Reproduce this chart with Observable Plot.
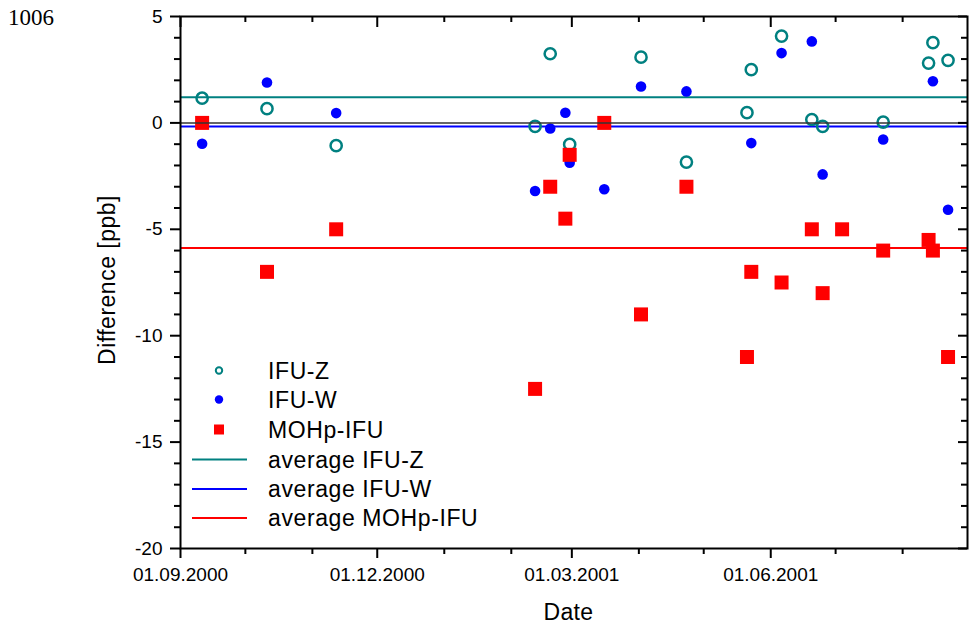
<!DOCTYPE html>
<html><head><meta charset="utf-8">
<script src="https://cdn.jsdelivr.net/npm/d3@7"></script>
<script src="https://cdn.jsdelivr.net/npm/@observablehq/plot@0.6"></script>
<style>
body{margin:0;background:#fff;}
#chart{position:relative;width:969px;height:627px;}
</style>
</head><body><div id="chart"></div>
<script>
// ---- data ----
const datesZ  = ["2000-09-11","2000-10-11","2000-11-12","2001-02-12","2001-02-19","2001-02-28","2001-04-02","2001-04-23","2001-05-21","2001-05-23","2001-06-06","2001-06-20","2001-06-25","2001-07-23","2001-08-13","2001-08-15","2001-08-22"];
const valuesZ = [1.16,0.67,-1.07,-0.16,3.25,-1.01,3.09,-1.84,0.48,2.5,4.08,0.16,-0.16,0.04,2.81,3.77,2.94];
const datesW  = ["2000-09-11","2000-10-11","2000-11-12","2001-02-12","2001-02-19","2001-02-26","2001-02-28","2001-03-16","2001-04-02","2001-04-23","2001-05-23","2001-06-06","2001-06-20","2001-06-25","2001-07-23","2001-08-15","2001-08-22"];
const valuesW = [-0.98,1.9,0.46,-3.2,-0.26,0.48,-1.87,-3.12,1.71,1.48,-0.95,3.28,3.83,-2.42,-0.78,1.96,-4.08];
const datesM  = ["2000-09-11","2000-10-11","2000-11-12","2001-02-12","2001-02-19","2001-02-26","2001-02-28","2001-03-16","2001-04-02","2001-04-23","2001-05-21","2001-05-23","2001-06-06","2001-06-20","2001-06-25","2001-07-04","2001-07-23","2001-08-13","2001-08-15","2001-08-22"];
const valuesM = [0,-7,-5,-12.5,-3,-4.5,-1.5,0,-9,-3,-11,-7,-7.5,-5,-8,-5,-6,-5.5,-6,-11];
const averages = [1.21, -0.17, -5.88]; // average IFU-Z, IFU-W, MOHp-IFU
const seriesNames = ["IFU-Z","IFU-W","MOHp-IFU"];
const averageNames = ["average IFU-Z","average IFU-W","average MOHp-IFU"];
const xTickDates = ["2000-09-01","2000-12-01","2001-03-01","2001-06-01"];
const yTicks = [-20,-15,-10,-5,0,5];
const xDomainDates = ["2000-09-01","2001-08-31"];
const yDomain = [-20, 5];
const panelLabel = "1006";
const xLabel = "Date";
const yLabel = "Difference [ppb]";

// ---- styles ----
const colZ = "#008080", colW = "#0000ff", colM = "#ff0000";
const FONT = "'Liberation Sans', Arial, sans-serif";

const parse = d3.utcParse("%Y-%m-%d");
const toRows = (ds, vs) => ds.map((d, i) => ({date: parse(d), value: vs[i]}));
const dataZ = toRows(datesZ, valuesZ);
const dataW = toRows(datesW, valuesW);
const dataM = toRows(datesM, valuesM);
const xDomain = xDomainDates.map(parse);
const majorX = xTickDates.map(parse);
const minorX = d3.utcMonth.range(xDomain[0], d3.utcDay.offset(xDomain[1], 1)).filter(d => !majorX.some(m => +m === +d));
const minorY = d3.range(yDomain[0], yDomain[1] + 1).filter(v => v % 5 !== 0);

const W = 969, H = 627, mT = 16, mR = 2, mB = 79, mL = 180;
const fw = W - mL - mR, fh = H - mT - mB;

const plot = Plot.plot({
  width: W, height: H,
  marginTop: mT, marginRight: mR, marginBottom: mB, marginLeft: mL,
  style: {fontFamily: FONT, fontSize: "19px", color: "#000", background: "#fff", overflow: "visible"},
  x: {type: "utc", domain: xDomain},
  y: {domain: yDomain},
  marks: [
    Plot.ruleY([averages[0]], {y: d => d, stroke: colZ, strokeWidth: 2}),
    Plot.ruleY([averages[1]], {y: d => d, stroke: colW, strokeWidth: 2}),
    Plot.ruleY([averages[2]], {y: d => d, stroke: colM, strokeWidth: 2}),
    Plot.dot(dataZ, {x: "date", y: "value", r: 5.6, stroke: colZ, strokeWidth: 2.5, fill: "none"}),
    Plot.dot(dataW, {x: "date", y: "value", r: 5.3, fill: colW, stroke: "none"}),
    Plot.dot(dataM, {x: "date", y: "value", symbol: "square", r: 7.9, fill: colM, stroke: "none"}),
    Plot.ruleY([0], {stroke: "#333", strokeWidth: 1.5}),
    // left axis
    Plot.axisY(yTicks, {anchor: "left", tickSize: 10, tickPadding: 8, tickFormat: d => String(d), label: null, strokeWidth: 2, fontSize: 19}),
    Plot.axisY(minorY, {anchor: "left", tickSize: 6, tickFormat: () => "", label: null, strokeWidth: 2}),
    // right axis (inward ticks)
    Plot.ruleY(yTicks, {y: d => d, insetLeft: fw - 9, stroke: "#000", strokeWidth: 2}),
    Plot.ruleY(minorY, {y: d => d, insetLeft: fw - 6, stroke: "#000", strokeWidth: 2}),
    // bottom axis
    Plot.axisX(majorX, {anchor: "bottom", tickSize: 10, tickPadding: 9, tickFormat: d3.utcFormat("%d.%m.%Y"), label: null, strokeWidth: 2, fontSize: 19}),
    Plot.axisX(minorX, {anchor: "bottom", tickSize: 6, tickFormat: () => "", label: null, strokeWidth: 2}),
    // top axis (inward ticks)
    Plot.ruleX(majorX, {x: d => d, insetBottom: fh - 11, stroke: "#000", strokeWidth: 2}),
    Plot.ruleX(minorX, {x: d => d, insetBottom: fh - 6, stroke: "#000", strokeWidth: 2}),
    Plot.frame({stroke: "#000", strokeWidth: 2})
  ]
});

const svg = d3.select(plot);
// panel label
svg.append("text").attr("x", 8).attr("y", 25).attr("text-anchor", "start")
  .attr("font-family", "'Liberation Serif', 'Times New Roman', serif")
  .attr("font-size", 23).attr("fill", "#000").text(panelLabel);
// axis titles
svg.append("text").attr("x", mL + fw / 2 - 5).attr("y", 620).attr("text-anchor", "middle")
  .attr("font-family", FONT).attr("font-size", 23).attr("letter-spacing", "0.3px").attr("fill", "#000").text(xLabel);
svg.append("text").attr("transform", `translate(115,${mT + fh / 2 - 2}) rotate(-90)`).attr("text-anchor", "middle")
  .attr("font-family", FONT).attr("font-size", 23).attr("letter-spacing", "0.5px").attr("fill", "#000").text(yLabel);

// legend
const rowsY = [370.5, 399.5, 429.5, 459.5, 489, 518];
const lg = svg.append("g").attr("font-family", FONT).attr("font-size", 23).attr("letter-spacing", "0.6px")
  .attr("fill", "#000").attr("text-anchor", "start");
const symX = 219, txtX = 268;
lg.append("circle").attr("cx", symX).attr("cy", rowsY[0]).attr("r", 3.2).attr("fill", "none").attr("stroke", colZ).attr("stroke-width", 2);
lg.append("circle").attr("cx", symX).attr("cy", rowsY[1]).attr("r", 4.2).attr("fill", colW);
lg.append("rect").attr("x", symX - 5).attr("y", rowsY[2] - 5).attr("width", 10).attr("height", 10).attr("fill", colM);
[colZ, colW, colM].forEach((c, i) => {
  lg.append("line").attr("x1", 192).attr("x2", 247).attr("y1", rowsY[3 + i]).attr("y2", rowsY[3 + i]).attr("stroke", c).attr("stroke-width", 2);
});
[...seriesNames, ...averageNames].forEach((t, i) => {
  lg.append("text").attr("x", txtX).attr("y", rowsY[i] + 8).attr("text-anchor", "start").text(t);
});

document.getElementById("chart").appendChild(plot);
</script>
</body></html>
